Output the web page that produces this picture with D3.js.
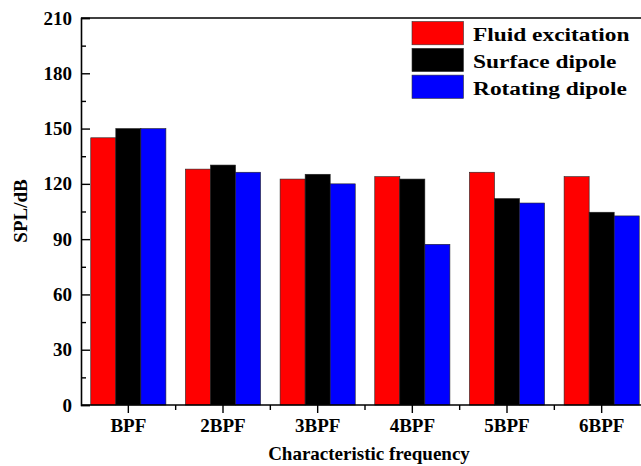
<!DOCTYPE html>
<html><head><meta charset="utf-8">
<script src="https://cdn.jsdelivr.net/npm/d3@7"></script>
<style>
body{margin:0;background:#fff;}
svg{display:block;}
</style></head><body>
<svg id="chart" width="641" height="466"></svg>
<script>
const categories = ["BPF","2BPF","3BPF","4BPF","5BPF","6BPF"];
const seriesNames = ["Fluid excitation","Surface dipole","Rotating dipole"];
const fluidExcitation = [145, 128, 122.6, 123.9, 126.3, 123.9];
const surfaceDipole   = [150, 130.2, 125.2, 122.6, 112, 104.6];
const rotatingDipole  = [150, 126.3, 120, 87.2, 109.6, 102.6];
const colors = ["#ff0000","#000000","#0000ff"];
const yTicks = [0,30,60,90,120,150,180,210];

const FONT = '"Liberation Serif","Times New Roman",serif';
const series = [fluidExcitation, surfaceDipole, rotatingDipole];
const svg = d3.select("#chart");
const L = 81, R = 649, T = 18, B = 405;

function styleText(sel, size){
  sel.style("font-family", FONT).style("font-weight","bold").style("font-size", size+"px").attr("fill","#000");
}

const x = d3.scaleBand().domain(categories).range([L, R]).paddingInner(0).paddingOuter(0);
const xs = d3.scaleBand().domain(d3.range(3)).range([0, x.bandwidth()]).paddingInner(0).paddingOuter(0.39);
const y = d3.scaleLinear().domain([0,210]).range([B, T]);

// bars
categories.forEach((c,i)=>{
  series.forEach((s,j)=>{
    svg.append("rect")
      .attr("x", x(c)+xs(j))
      .attr("y", y(s[i]))
      .attr("width", xs.bandwidth())
      .attr("height", y(0)-y(s[i]))
      .attr("fill", colors[j])
      .attr("stroke", "#222")
      .attr("stroke-width", 0.6);
  });
});

// frame top & right
svg.append("line").attr("x1",L).attr("x2",R).attr("y1",T).attr("y2",T).attr("stroke","#000").attr("stroke-width",1.6);
svg.append("line").attr("x1",R).attr("x2",R).attr("y1",T).attr("y2",B).attr("stroke","#000").attr("stroke-width",1.6);

// y axis
const yAxis = d3.axisLeft(y).tickValues(yTicks).tickSize(-9).tickPadding(9);
const gy = svg.append("g").attr("transform",`translate(${L},0)`).call(yAxis);
gy.select(".domain").attr("stroke-width",1.6);
gy.selectAll(".tick line").attr("stroke-width",1.4);
styleText(gy.selectAll("text"), 19);
const yMinor = d3.axisLeft(y).tickValues(d3.range(15,210,30)).tickSize(-5).tickFormat("");
const gym = svg.append("g").attr("transform",`translate(${L},0)`).call(yMinor);
gym.select(".domain").remove();
gym.selectAll(".tick line").attr("stroke-width",1.4);

// x axis
const xAxis = d3.axisBottom(x).tickSize(8).tickPadding(6);
const gx = svg.append("g").attr("transform",`translate(0,${B})`).call(xAxis);
gx.select(".domain").attr("stroke-width",1.6).attr("d",`M${L},0H${R}`);
gx.selectAll(".tick line").attr("stroke-width",1.4);
styleText(gx.selectAll("text"), 19);
// minor x ticks at category boundaries
const bounds = categories.slice(1).map(c=>x(c));
svg.append("g").selectAll("line").data(bounds).join("line")
  .attr("x1",d=>d).attr("x2",d=>d).attr("y1",B).attr("y2",B+5)
  .attr("stroke","#000").attr("stroke-width",1.4);

// axis titles
styleText(svg.append("text").attr("x",369).attr("y",460).attr("text-anchor","middle")
  .text("Characteristic frequency"), 19);
styleText(svg.append("text").attr("transform",`translate(26.5,211) rotate(-90)`).attr("text-anchor","middle")
  .text("SPL/dB"), 19);

// legend
const lg = svg.append("g").attr("transform","translate(412,21.5)");
seriesNames.forEach((n,j)=>{
  lg.append("rect").attr("x",0).attr("y",j*26.8).attr("width",51.5).attr("height",23.3)
    .attr("fill",colors[j]).attr("stroke","#333").attr("stroke-width",0.6);
  styleText(lg.append("text").attr("transform",`translate(61,${j*26.8+19.5}) scale(1.2,1)`).text(n), 19.5);
});
</script>
</body></html>
